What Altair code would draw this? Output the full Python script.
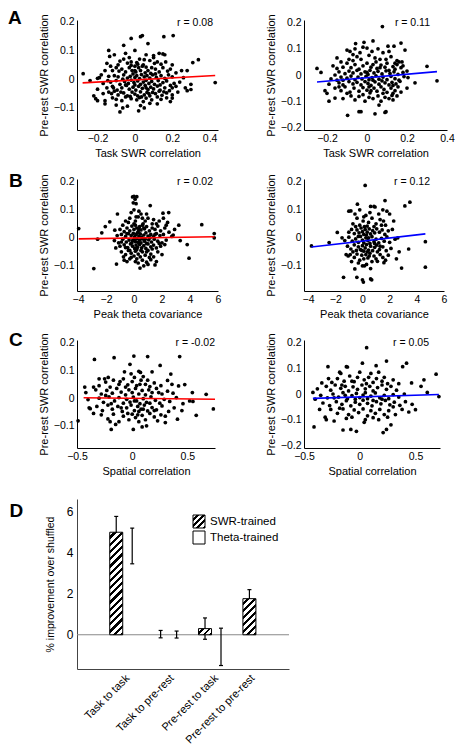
import altair as alt
import pandas as pd

FONT = "Liberation Sans"

# ---------------- scatter data ----------------
a1_pts = [
    (-0.02, 0.142), (0.03, 0.148), (0.04, 0.152), (0.155, 0.148), (0.205, 0.152),
    (0.07, 0.124), (-0.06, 0.118),
    (-0.14, 0.10), (-0.11, 0.085), (-0.05, 0.09), (0.0, 0.10), (0.13, 0.09), (0.15, 0.088), (0.06, 0.085), (0.10, 0.082), (0.16, 0.085),
    (-0.135, 0.079), (-0.08, 0.063), (-0.06, 0.07), (-0.04, 0.056), (-0.02, 0.06), (0.01, 0.058), (0.025, 0.07), (0.045, 0.05),
    (0.08, 0.065), (0.10, 0.075), (0.12, 0.06), (0.34, 0.068), (0.31, 0.058), (0.20, 0.05), (0.14, 0.052), (-0.15, 0.055),
    (-0.16, 0.03), (-0.12, 0.03), (-0.10, 0.04), (-0.085, 0.028), (-0.07, 0.035), (-0.05, 0.025), (-0.03, 0.04), (-0.015, 0.03),
    (0.0, 0.045), (0.005, 0.025), (0.02, 0.04), (0.03, 0.03), (0.04, 0.045), (0.055, 0.022), (0.07, 0.03), (0.09, 0.04),
    (0.11, 0.035), (0.13, 0.025), (0.15, 0.04), (0.175, 0.028), (0.19, 0.035), (0.25, 0.03), (0.28, 0.03), (-0.277, 0.019), (0.22, 0.022),
    (-0.19, 0.005), (-0.14, 0.01), (-0.11, 0.012), (-0.09, 0.008), (-0.06, 0.015), (-0.04, 0.004), (-0.025, 0.01), (-0.01, 0.018),
    (0.0, 0.006), (0.01, 0.012), (0.025, 0.002), (0.035, 0.016), (0.05, 0.008), (0.065, 0.012), (0.08, 0.004), (0.095, 0.015),
    (0.115, 0.006), (0.14, 0.012), (0.16, 0.003), (0.18, 0.015), (0.20, 0.008), (0.26, 0.005), (-0.20, 0.003),
    (-0.24, -0.005), (-0.17, -0.015), (-0.13, -0.01), (-0.10, -0.005), (-0.08, -0.018), (-0.055, -0.008), (-0.035, -0.015), (-0.02, -0.003),
    (-0.005, -0.012), (0.015, -0.006), (0.03, -0.018), (0.045, -0.01), (0.06, -0.004), (0.075, -0.015), (0.09, -0.008), (0.105, -0.018),
    (0.125, -0.005), (0.15, -0.012), (0.17, -0.006), (0.21, -0.015), (0.24, -0.01), (0.30, -0.018), (0.43, -0.012),
    (-0.20, -0.035), (-0.15, -0.03), (-0.12, -0.025), (-0.095, -0.038), (-0.07, -0.03), (-0.045, -0.022), (-0.03, -0.035), (-0.01, -0.028),
    (0.005, -0.038), (0.02, -0.025), (0.04, -0.032), (0.055, -0.022), (0.07, -0.036), (0.085, -0.028), (0.10, -0.034), (0.12, -0.024),
    (0.135, -0.038), (0.16, -0.03), (0.19, -0.022), (0.27, -0.03), (0.30, -0.036), (0.28, -0.04),
    (-0.22, -0.058), (-0.17, -0.05), (-0.14, -0.045), (-0.11, -0.042), (-0.09, -0.055), (-0.06, -0.048), (-0.04, -0.058), (-0.015, -0.045),
    (0.0, -0.052), (0.015, -0.058), (0.03, -0.044), (0.05, -0.055), (0.065, -0.046), (0.08, -0.058), (0.11, -0.05), (0.13, -0.042),
    (0.145, -0.056), (0.17, -0.048), (0.20, -0.055), (0.23, -0.045),
    (-0.21, -0.068), (-0.20, -0.075), (-0.16, -0.075), (-0.12, -0.065), (-0.10, -0.07), (-0.07, -0.075), (-0.05, -0.062), (-0.02, -0.068),
    (0.01, -0.072), (0.025, -0.064), (0.045, -0.078), (0.06, -0.066), (0.09, -0.072), (0.12, -0.062), (0.14, -0.07), (0.17, -0.065),
    (0.20, -0.066), (0.19, -0.078),
    (-0.16, -0.086), (-0.10, -0.09), (-0.08, -0.114), (-0.065, -0.10), (-0.04, -0.094), (0.02, -0.11), (0.05, -0.10), (0.03, -0.092),
    (0.12, -0.086), (0.08, -0.084),
    (-0.13, 0.045), (-0.09, 0.05), (-0.02, 0.048), (0.015, 0.052), (0.06, 0.042), (0.105, 0.055), (0.165, 0.06),
    (-0.145, -0.005), (-0.065, 0.0), (0.0, -0.02), (0.085, 0.02), (0.135, -0.02), (0.185, -0.04), (0.22, -0.025),
    (-0.125, -0.05), (-0.075, -0.045), (-0.025, -0.06), (0.035, -0.062), (0.095, -0.046), (0.155, -0.044),
    (-0.18, 0.015), (-0.115, -0.03), (0.05, 0.068), (0.11, 0.018), (0.20, -0.03), (-0.03, 0.075), (0.075, -0.05), (0.0, 0.03),
    (0.06, -0.03), (-0.05, -0.02),
]
a2_pts = [
    (0.077, 0.185), (-0.057, 0.12), (-0.015, 0.125), (0.03, 0.13), (0.17, 0.122), (0.19, 0.095), (-0.10, 0.095), (-0.085, 0.09),
    (-0.07, 0.078), (-0.02, 0.106), (0.0, 0.103), (0.105, 0.11), (0.135, 0.11), (0.30, 0.033), (0.205, -0.01), (0.24, -0.03),
    (0.35, -0.022), (-0.25, 0.025), (-0.19, -0.10), (-0.21, -0.06), (-0.20, -0.07), (-0.16, -0.088), (-0.097, -0.154), (-0.04, -0.14),
    (-0.03, -0.14), (0.04, -0.148), (0.09, -0.143), (0.095, -0.14),
    (-0.13, 0.05), (-0.05, 0.07), (-0.03, 0.06), (0.01, 0.075), (0.04, 0.065), (0.065, 0.06), (0.08, 0.085), (0.12, 0.07),
    (0.15, 0.055), (0.16, 0.05), (0.14, 0.045), (-0.07, 0.055), (0.025, 0.09), (0.11, 0.09),
    (-0.17, 0.035), (-0.15, 0.025), (-0.12, 0.03), (-0.10, 0.045), (-0.08, 0.028), (-0.06, 0.04), (-0.04, 0.022), (-0.02, 0.035),
    (0.0, 0.045), (0.02, 0.03), (0.03, 0.04), (0.05, 0.025), (0.07, 0.038), (0.09, 0.03), (0.10, 0.045), (0.13, 0.032),
    (0.15, 0.04), (0.17, 0.028), (0.175, 0.05), (0.14, 0.022),
    (-0.23, 0.01), (-0.14, 0.012), (-0.11, 0.005), (-0.09, 0.015), (-0.07, 0.008), (-0.05, 0.018), (-0.03, 0.004), (-0.01, 0.012),
    (0.005, 0.002), (0.015, 0.018), (0.035, 0.008), (0.055, 0.014), (0.075, 0.004), (0.095, 0.016), (0.115, 0.006), (0.135, 0.012),
    (0.155, 0.002), (0.18, 0.01), (0.20, 0.015),
    (-0.18, -0.015), (-0.15, -0.02), (-0.13, -0.008), (-0.10, -0.012), (-0.08, -0.004), (-0.06, -0.018), (-0.045, -0.008), (-0.025, -0.015),
    (-0.005, -0.005), (0.01, -0.018), (0.025, -0.01), (0.045, -0.003), (0.06, -0.016), (0.08, -0.008), (0.10, -0.018), (0.12, -0.005),
    (0.14, -0.014), (0.16, -0.02), (0.185, -0.006),
    (-0.19, -0.035), (-0.14, -0.03), (-0.12, -0.038), (-0.09, -0.025), (-0.07, -0.034), (-0.05, -0.028), (-0.03, -0.038), (-0.01, -0.025),
    (0.005, -0.032), (0.02, -0.04), (0.04, -0.026), (0.06, -0.035), (0.075, -0.022), (0.09, -0.03), (0.11, -0.038), (0.125, -0.028),
    (0.145, -0.034), (0.165, -0.024),
    (-0.16, -0.05), (-0.13, -0.06), (-0.11, -0.045), (-0.085, -0.065), (-0.065, -0.05), (-0.04, -0.062), (-0.02, -0.048), (0.0, -0.058),
    (0.015, -0.068), (0.035, -0.05), (0.05, -0.062), (0.07, -0.045), (0.085, -0.055), (0.10, -0.066), (0.12, -0.05), (0.14, -0.06),
    (0.155, -0.045), (0.13, -0.07),
    (-0.12, -0.09), (-0.08, -0.08), (-0.06, -0.095), (-0.04, -0.082), (-0.01, -0.10), (0.01, -0.085), (0.03, -0.09), (0.055, -0.08),
    (0.07, -0.10), (0.09, -0.085), (0.11, -0.09), (0.125, -0.078), (0.06, -0.115), (0.13, -0.095),
    (-0.15, 0.065), (-0.09, 0.06), (0.055, 0.10), (0.095, 0.06), (-0.16, 0.0), (-0.12, -0.02), (0.0, 0.01), (0.03, -0.02),
    (0.065, 0.028), (0.11, 0.018), (0.13, -0.04), (0.02, -0.06), (-0.02, -0.075), (0.08, -0.07), (0.15, -0.08), (-0.10, -0.07),
    (-0.14, -0.045), (0.045, 0.05), (-0.035, 0.085), (0.18, 0.035), (0.20, -0.05), (0.17, -0.065), (-0.06, 0.10), (0.01, -0.045),
]
b1_pts = [
    (-3.95, 0.033), (-2.87, -0.11), (-2.3, 0.018), (-2.05, 0.04), (-1.73, 0.057), (-1.37, 0.027), (-1.18, 0.085), (-1.25, -0.094),
    (-0.1, 0.146), (0.0, 0.148), (0.2, 0.147), (0.08, 0.138), (-0.05, 0.125), (0.15, 0.122), (1.16, 0.115), (4.84, 0.047),
    (5.73, 0.015), (5.73, 0.0), (3.93, -0.073), (3.8, -0.024), (3.3, -0.01), (2.48, 0.09), (2.07, 0.088), (0.43, -0.108),
    (1.5, -0.097), (2.9, 0.03), (3.2, 0.045), (2.8, 0.01), (-2.6, -0.005),
    (-0.6, 0.06), (-0.2, 0.09), (0.0, 0.10), (0.3, 0.075), (0.5, 0.085), (0.8, 0.06), (1.0, 0.07), (1.4, 0.065),
    (1.8, 0.06), (2.1, 0.07), (-0.4, 0.055), (0.1, 0.06), (0.65, 0.05), (1.6, 0.05), (2.4, 0.055),
    (-1.0, 0.03), (-0.8, 0.045), (-0.5, 0.035), (-0.3, 0.025), (-0.15, 0.042), (0.0, 0.03), (0.1, 0.045), (0.2, 0.035),
    (0.3, 0.022), (0.4, 0.04), (0.5, 0.028), (0.6, 0.045), (0.75, 0.032), (0.9, 0.04), (1.1, 0.025), (1.3, 0.035),
    (1.5, 0.03), (1.7, 0.042), (1.9, 0.025), (2.2, 0.035), (2.5, 0.02), (-0.7, 0.022),
    (-1.2, 0.008), (-0.9, 0.012), (-0.6, 0.005), (-0.4, 0.015), (-0.2, 0.008), (-0.05, 0.016), (0.05, 0.004), (0.15, 0.012),
    (0.25, 0.018), (0.35, 0.006), (0.45, 0.014), (0.55, 0.002), (0.7, 0.01), (0.85, 0.018), (1.0, 0.006), (1.2, 0.012),
    (1.4, 0.004), (1.6, 0.015), (1.85, 0.008), (2.1, 0.012), (2.7, 0.005),
    (-1.4, -0.01), (-1.1, -0.018), (-0.8, -0.005), (-0.55, -0.015), (-0.35, -0.008), (-0.15, -0.018), (0.0, -0.006), (0.1, -0.014),
    (0.2, -0.003), (0.3, -0.016), (0.4, -0.008), (0.5, -0.018), (0.6, -0.004), (0.75, -0.012), (0.9, -0.02), (1.05, -0.007),
    (1.25, -0.015), (1.45, -0.005), (1.7, -0.012), (2.0, -0.018), (2.3, -0.008),
    (-1.0, -0.03), (-0.7, -0.025), (-0.45, -0.035), (-0.25, -0.022), (-0.1, -0.03), (0.05, -0.038), (0.15, -0.026), (0.25, -0.034),
    (0.4, -0.024), (0.55, -0.036), (0.7, -0.028), (0.85, -0.038), (1.0, -0.022), (1.2, -0.032), (1.4, -0.026), (1.6, -0.036),
    (1.9, -0.03), (2.2, -0.024), (-1.3, -0.036),
    (-0.9, -0.05), (-0.6, -0.06), (-0.4, -0.045), (-0.2, -0.055), (0.0, -0.065), (0.1, -0.048), (0.3, -0.058), (0.45, -0.068),
    (0.6, -0.05), (0.8, -0.062), (1.0, -0.045), (1.2, -0.058), (1.4, -0.068), (1.7, -0.05), (2.0, -0.06), (-0.75, -0.068),
    (0.2, -0.042), (1.1, -0.07),
    (-0.7, -0.08), (-0.3, -0.075), (0.1, -0.085), (0.3, -0.09), (0.6, -0.08), (0.9, -0.087), (1.2, -0.078), (1.6, -0.085),
    (-0.5, -0.085), (0.7, -0.10),
    (-0.3, 0.07), (0.35, 0.095), (0.9, 0.085), (-0.5, 0.015), (0.0, 0.05), (0.7, 0.035), (1.3, 0.05), (-0.1, -0.01),
    (0.35, 0.03), (0.8, -0.005), (1.15, 0.0), (-0.3, -0.045), (0.5, -0.045), (0.9, -0.05), (1.3, -0.04), (-0.6, -0.035),
    (0.2, -0.075), (1.0, -0.095), (1.8, -0.02), (2.3, 0.045), (-0.9, -0.015), (0.6, 0.07), (1.5, 0.012), (0.15, 0.075), (-0.2, -0.07),
]
b2_pts = [
    (-3.75, -0.029), (-2.45, -0.017), (-1.85, 0.019), (0.2, 0.187), (3.49, 0.127), (3.12, 0.114), (1.66, 0.133), (0.6, 0.112),
    (0.85, 0.112), (0.93, 0.11), (-0.37, 0.12), (-0.85, 0.096), (-1.0, 0.095), (4.63, -0.014), (4.63, -0.105), (2.88, -0.108),
    (-1.39, -0.141), (-0.41, -0.141), (0.0, -0.15), (0.07, -0.158), (0.6, -0.147), (0.68, -0.15), (-0.56, -0.111), (1.58, -0.089),
    (1.1, -0.084), (2.5, -0.075), (3.4, -0.04), (2.3, 0.06), (2.0, 0.085), (1.8, 0.095), (-1.2, -0.06), (-1.05, -0.065),
    (-0.7, 0.05), (-0.4, 0.07), (-0.2, 0.045), (0.05, 0.06), (0.25, 0.08), (0.45, 0.055), (0.7, 0.07), (1.0, 0.05),
    (1.3, 0.065), (1.55, 0.06), (1.7, 0.045), (-0.55, 0.085), (0.35, 0.042), (1.2, 0.085),
    (-1.0, 0.02), (-0.8, 0.03), (-0.6, 0.015), (-0.4, 0.028), (-0.25, 0.018), (-0.1, 0.035), (0.0, 0.022), (0.1, 0.012),
    (0.2, 0.03), (0.35, 0.02), (0.5, 0.032), (0.6, 0.014), (0.75, 0.026), (0.9, 0.018), (1.05, 0.032), (1.25, 0.02),
    (1.45, 0.028), (1.65, 0.012), (1.9, 0.025), (2.2, 0.03), (0.15, 0.04),
    (-1.3, -0.01), (-1.0, 0.002), (-0.75, -0.012), (-0.5, -0.004), (-0.3, -0.016), (-0.15, 0.005), (0.0, -0.008), (0.1, -0.018),
    (0.25, 0.0), (0.4, -0.01), (0.55, -0.02), (0.7, 0.004), (0.85, -0.014), (1.0, -0.005), (1.2, -0.018), (1.4, -0.002),
    (1.6, -0.012), (1.8, 0.003), (2.0, -0.016), (2.4, -0.005),
    (-1.1, -0.03), (-0.85, -0.04), (-0.6, -0.025), (-0.45, -0.045), (-0.3, -0.032), (-0.15, -0.042), (0.0, -0.028), (0.1, -0.048),
    (0.2, -0.036), (0.3, -0.024), (0.45, -0.044), (0.6, -0.03), (0.75, -0.046), (0.9, -0.034), (1.05, -0.026), (1.25, -0.042),
    (1.5, -0.032), (1.75, -0.046), (2.1, -0.038), (-0.7, -0.05), (0.35, -0.05),
    (-0.9, -0.06), (-0.6, -0.07), (-0.4, -0.058), (-0.2, -0.08), (-0.05, -0.062), (0.1, -0.075), (0.25, -0.06), (0.4, -0.072),
    (0.55, -0.055), (0.7, -0.085), (0.85, -0.065), (1.0, -0.075), (1.3, -0.06), (1.5, -0.07), (1.9, -0.062), (-0.3, -0.09),
    (0.3, -0.095), (0.15, -0.10),
    (-0.5, 0.04), (0.1, 0.075), (0.55, 0.09), (0.85, 0.04), (1.4, 0.045), (-0.3, 0.005), (0.3, 0.01), (0.9, -0.02),
    (1.3, -0.03), (-0.05, -0.045), (0.5, -0.065), (1.1, -0.05), (1.7, -0.08), (-0.8, -0.085), (0.0, -0.10), (0.6, -0.11),
    (-0.2, 0.10), (1.5, 0.10), (2.6, 0.0), (2.7, -0.05), (-1.5, 0.0), (0.45, 0.0),
]
c1_pts = [
    (-0.342, 0.14), (-0.164, 0.146), (0.015, 0.152), (0.14, 0.15), (0.253, 0.118), (0.43, 0.15), (-0.02, 0.122), (0.06, 0.097),
    (0.075, 0.093), (-0.01, 0.088), (-0.217, 0.075), (-0.24, 0.058), (-0.49, -0.082), (-0.39, -0.035), (-0.38, -0.038), (-0.19, -0.113),
    (0.01, -0.113), (0.09, -0.104), (0.41, -0.076), (0.23, -0.082), (0.30, -0.088), (0.58, -0.062), (0.735, -0.039), (0.67, 0.014),
    (0.545, 0.02), (0.476, 0.049), (0.32, 0.064), (0.35, 0.087), (0.42, 0.044), (0.52, -0.01), (0.46, -0.02), (0.55, -0.012),
    (-0.43, 0.04), (-0.35, 0.04),
    (-0.30, 0.045), (-0.20, 0.04), (-0.17, 0.065), (-0.12, 0.05), (-0.08, 0.07), (-0.04, 0.048), (0.0, 0.06), (0.04, 0.045),
    (0.08, 0.065), (0.12, 0.05), (0.16, 0.042), (0.20, 0.055), (0.26, 0.045), (-0.25, 0.07), (0.10, 0.078),
    (-0.42, 0.02), (-0.33, 0.03), (-0.28, 0.015), (-0.23, 0.028), (-0.18, 0.018), (-0.14, 0.035), (-0.10, 0.022), (-0.06, 0.012),
    (-0.03, 0.03), (0.0, 0.02), (0.03, 0.035), (0.06, 0.015), (0.09, 0.028), (0.12, 0.012), (0.15, 0.03), (0.18, 0.02),
    (0.22, 0.035), (0.27, 0.015), (0.32, 0.025), (0.37, 0.018),
    (-0.40, -0.005), (-0.30, 0.0), (-0.26, -0.015), (-0.21, 0.005), (-0.16, -0.01), (-0.12, 0.002), (-0.08, -0.018), (-0.05, -0.004),
    (-0.02, -0.014), (0.01, 0.004), (0.04, -0.01), (0.07, -0.02), (0.10, -0.002), (0.13, -0.015), (0.17, 0.005), (0.21, -0.008),
    (0.25, -0.018), (0.29, -0.004), (0.34, -0.012), (0.40, 0.002),
    (-0.32, -0.03), (-0.27, -0.045), (-0.22, -0.025), (-0.18, -0.04), (-0.13, -0.03), (-0.09, -0.048), (-0.05, -0.035), (-0.01, -0.025),
    (0.02, -0.045), (0.05, -0.03), (0.08, -0.04), (0.11, -0.025), (0.14, -0.046), (0.18, -0.034), (0.22, -0.042), (0.27, -0.028),
    (0.33, -0.048), (0.38, -0.035),
    (-0.28, -0.06), (-0.22, -0.075), (-0.17, -0.058), (-0.12, -0.085), (-0.08, -0.065), (-0.03, -0.078), (0.0, -0.058), (0.03, -0.07),
    (0.06, -0.085), (0.09, -0.062), (0.12, -0.078), (0.16, -0.055), (0.20, -0.068), (0.26, -0.06), (-0.15, -0.095), (0.05, -0.06),
    (-0.24, 0.01), (-0.11, 0.06), (-0.06, 0.04), (0.02, 0.075), (0.07, 0.05), (0.14, 0.065), (0.24, 0.02), (-0.19, -0.02),
    (-0.10, -0.035), (-0.04, -0.055), (0.02, -0.01), (0.06, -0.048), (0.10, -0.04), (0.16, -0.018), (0.20, -0.045), (0.30, -0.065),
    (-0.35, -0.055), (-0.20, -0.085), (0.13, -0.10), (0.36, 0.05), (-0.07, 0.095), (0.18, 0.095), (0.45, -0.045), (-0.30, 0.07),
]
c2_pts = [
    (0.062, 0.18), (0.42, 0.12), (0.385, 0.106), (0.685, 0.077), (0.576, 0.055), (0.606, 0.006), (0.465, 0.043), (-0.41, -0.128),
    (-0.15, -0.14), (-0.08, -0.138), (-0.03, -0.145), (0.04, -0.11), (0.21, -0.15), (0.24, -0.138), (0.28, -0.12), (0.50, -0.061),
    (-0.285, 0.106), (-0.18, 0.085), (-0.17, 0.08), (-0.12, 0.106), (-0.11, 0.105), (0.024, 0.12), (0.147, 0.11), (0.24, 0.128),
    (0.17, 0.085), (-0.31, -0.09), (-0.30, -0.10), (-0.42, 0.006), (-0.34, 0.043), (0.71, -0.01), (0.44, -0.07), (0.41, -0.03),
    (0.38, -0.06), (-0.23, -0.105), (0.32, -0.08),
    (-0.25, 0.045), (-0.20, 0.06), (-0.14, 0.05), (-0.09, 0.07), (-0.05, 0.048), (0.0, 0.085), (0.04, 0.055), (0.08, 0.065),
    (0.12, 0.045), (0.15, 0.06), (0.20, 0.05), (0.25, 0.04), (0.30, 0.055), (-0.02, 0.065),
    (-0.38, 0.02), (-0.30, 0.03), (-0.26, 0.015), (-0.22, 0.035), (-0.17, 0.022), (-0.13, 0.03), (-0.10, 0.012), (-0.06, 0.028),
    (-0.02, 0.018), (0.02, 0.035), (0.05, 0.02), (0.09, 0.03), (0.12, 0.012), (0.16, 0.025), (0.20, 0.035), (0.24, 0.018),
    (0.28, 0.03), (0.33, 0.015),
    (-0.35, -0.005), (-0.29, -0.015), (-0.24, 0.0), (-0.19, -0.012), (-0.15, 0.005), (-0.11, -0.018), (-0.07, -0.006), (-0.03, 0.002),
    (0.0, -0.014), (0.03, -0.004), (0.07, -0.018), (0.10, -0.008), (0.14, 0.004), (0.18, -0.015), (0.22, -0.005), (0.26, -0.018),
    (0.30, -0.002), (0.35, -0.012),
    (-0.33, -0.035), (-0.27, -0.045), (-0.21, -0.03), (-0.16, -0.04), (-0.12, -0.026), (-0.08, -0.046), (-0.04, -0.032), (0.0, -0.04),
    (0.03, -0.024), (0.07, -0.036), (0.11, -0.046), (0.15, -0.03), (0.19, -0.038), (0.23, -0.025), (0.27, -0.042), (0.31, -0.032),
    (0.36, -0.044),
    (-0.26, -0.06), (-0.20, -0.075), (-0.15, -0.058), (-0.10, -0.08), (-0.05, -0.062), (-0.01, -0.072), (0.03, -0.058), (0.07, -0.085),
    (0.10, -0.065), (0.14, -0.075), (0.18, -0.06), (0.22, -0.08), (0.26, -0.065), (-0.12, -0.095), (0.12, -0.092),
    (-0.28, 0.06), (-0.16, 0.035), (-0.07, 0.05), (0.06, 0.04), (0.10, 0.08), (0.22, 0.065), (0.35, 0.04), (-0.23, -0.015),
    (-0.13, -0.005), (-0.04, -0.02), (0.05, 0.005), (0.12, -0.025), (0.20, -0.02), (0.30, -0.05), (-0.18, -0.055), (-0.07, -0.09),
    (0.05, -0.10), (0.17, -0.10), (0.25, -0.09), (-0.36, -0.06), (0.40, 0.0), (0.47, -0.04), (0.55, 0.03), (-0.40, -0.02),
]

# regression lines (end points)
a1_fit_x, a1_fit_y = [-0.28, 0.43], [-0.013, 0.013]
a2_fit_x, a2_fit_y = [-0.25, 0.35], [-0.027, 0.013]
b1_fit_x, b1_fit_y = [-3.95, 5.75], [-0.004, 0.004]
b2_fit_x, b2_fit_y = [-3.75, 4.63], [-0.033, 0.014]
c1_fit_x, c1_fit_y = [-0.44, 0.75], [0.0015, -0.004]
c2_fit_x, c2_fit_y = [-0.42, 0.71], [-0.017, -0.002]

r_labels = ["r = 0.08", "r = 0.11", "r = 0.02", "r = 0.12", "r = -0.02", "r = 0.05"]

# ---------------- bar chart data (panel D) ----------------
categories = ["Task to task", "Task to pre-rest", "Pre-rest to task", "Pre-rest to pre-rest"]
swr_mean = [5.0, 0.03, 0.3, 1.76]
swr_err = [0.77, 0.18, 0.52, 0.44]
theta_mean = [4.33, 0.01, -0.59, None]
theta_err = [0.87, 0.17, 0.91, None]
legend_labels = ["SWR-trained", "Theta-trained"]


def hatch(w, h, period=7.2, black=0.45):
    s = (w + h) / (w * w + h * h)
    n = max(1, int(round((w + h) / period)))
    stops = []
    for k in range(n):
        a = k / n
        b = (k + 1 - black) / n
        c = (k + 1) / n
        stops += [alt.GradientStop(color="white", offset=a),
                  alt.GradientStop(color="white", offset=b),
                  alt.GradientStop(color="black", offset=b),
                  alt.GradientStop(color="black", offset=c)]
    return alt.LinearGradient(gradient="linear", stops=stops, x1=0, y1=0, x2=w * s, y2=h * s)


def letter_layer(letter, lx, ly):
    return alt.Chart(pd.DataFrame({"t": [letter]})).mark_text(
        align="left", baseline="top", font=FONT, fontSize=19, fontWeight="bold", color="black"
    ).encode(x=alt.value(lx), y=alt.value(ly), text="t:N")


def scatter(pts, fit_x, fit_y, color, r_label, xtitle, xdom, xvals, ydom, yvals,
            w, h, r_dx, letter=None, letter_x=-69, letter_y=-11):
    df = pd.DataFrame(pts, columns=["x", "y"])
    fit = pd.DataFrame({"x": fit_x, "y": fit_y})
    xsc = alt.Scale(domain=xdom, nice=False, zero=False)
    ysc = alt.Scale(domain=ydom, nice=False, zero=False)
    pts_layer = alt.Chart(df).mark_circle(size=14, color="black", opacity=1).encode(
        x=alt.X("x:Q", scale=xsc, axis=alt.Axis(values=xvals, tickCount=20, format="~g", title=xtitle,
                                                 labelOverlap=False, labelFlush=False)),
        y=alt.Y("y:Q", scale=ysc, axis=alt.Axis(values=yvals, tickCount=20, format="~g",
                                                 title="Pre-rest SWR correlation",
                                                 labelOverlap=False, labelFlush=False)),
    )
    line = alt.Chart(fit).mark_line(color=color, strokeWidth=1.6).encode(x="x:Q", y="y:Q")
    rtext = alt.Chart(pd.DataFrame({"t": [r_label]})).mark_text(
        align="right", baseline="middle", font=FONT, fontSize=10.5, color="black"
    ).encode(x=alt.value(w - r_dx), y=alt.value(2.5), text="t:N")
    layers = [pts_layer, line, rtext]
    if letter:
        layers.append(letter_layer(letter, letter_x, letter_y))
    return alt.layer(*layers).properties(width=w, height=h)


a1 = scatter(a1_pts, a1_fit_x, a1_fit_y, "#ff0000", r_labels[0], "Task SWR correlation",
             [-0.31, 0.445], [-0.2, 0, 0.2, 0.4], [-0.177, 0.206], [-0.1, 0, 0.1, 0.2], 141, 110, 5, "A", -69, -11.4)
a2 = scatter(a2_pts, a2_fit_x, a2_fit_y, "#0000ff", r_labels[1], "Task SWR correlation",
             [-0.315, 0.4], [-0.2, 0, 0.2, 0.4], [-0.21, 0.21], [-0.2, -0.1, 0, 0.1, 0.2], 143, 110, 17)
b1 = scatter(b1_pts, b1_fit_x, b1_fit_y, "#ff0000", r_labels[2], "Peak theta covariance",
             [-4.07, 6], [-4, -2, 0, 2, 4, 6], [-0.19, 0.21], [-0.1, 0, 0.1, 0.2], 141, 112, 5, "B", -68, -7.1)
b2 = scatter(b2_pts, b2_fit_x, b2_fit_y, "#0000ff", r_labels[3], "Peak theta covariance",
             [-4.3, 6], [-4, -2, 0, 2, 4, 6], [-0.19, 0.21], [-0.1, 0, 0.1, 0.2], 140, 112, 14)
c1 = scatter(c1_pts, c1_fit_x, c1_fit_y, "#ff0000", r_labels[4], "Spatial correlation",
             [-0.5, 0.75], [-0.5, 0, 0.5], [-0.18, 0.21], [-0.1, 0, 0.1, 0.2], 138, 108, 0, "C", -68, -9.4)
c2 = scatter(c2_pts, c2_fit_x, c2_fit_y, "#0000ff", r_labels[5], "Spatial correlation",
             [-0.5, 0.72], [-0.5, 0, 0.5], [-0.21, 0.21], [-0.2, -0.1, 0, 0.1, 0.2], 136, 108, 11)

# ---------------- panel D ----------------
DW, DH = 212, 170
d_xdom = [-0.951, 3.599]
d_ydom = [-1.67, 6.62]
OFF = 0.18
ppu_y = DH / (d_ydom[1] - d_ydom[0])
BAR_W = 13

rows = []
ticks = []
for i, cat in enumerate(categories):
    xs = []
    rows.append(dict(cat=cat, kind="SWR", x=i - OFF, m=swr_mean[i],
                     lo=swr_mean[i] - swr_err[i], hi=swr_mean[i] + swr_err[i]))
    xs.append(i - OFF)
    if theta_mean[i] is not None:
        rows.append(dict(cat=cat, kind="Theta", x=i + OFF, m=theta_mean[i],
                         lo=theta_mean[i] - theta_err[i], hi=theta_mean[i] + theta_err[i]))
        xs.append(i + OFF)
    ticks.append(sum(xs) / len(xs))
ddf = pd.DataFrame(rows)
ddf["base"] = 0.0

label_expr = ""
for t, cat in zip(ticks[:-1], categories[:-1]):
    label_expr += f"datum.value < {t + 0.3:.3f} ? '{cat}' : "
label_expr += f"'{categories[-1]}'"

dx = alt.X("x:Q", scale=alt.Scale(domain=d_xdom, nice=False, zero=False),
           axis=alt.Axis(values=ticks, tickCount=20, labelExpr=label_expr, labelAngle=-45, labelAlign="right",
                         labelBaseline="top", labelPadding=3, labelOffset=-1, labelFontSize=11,
                         domainColor="#444", labelOverlap=False, labelFlush=False),
           title=None)
dy = alt.Y("m:Q", scale=alt.Scale(domain=d_ydom, nice=False, zero=False),
           axis=alt.Axis(values=[0, 2, 4, 6], tickCount=20, format="d", labelFontSize=12, labelPadding=4,
                         titlePadding=11, titleFontSize=10.5, domainColor="#444",
                         labelOverlap=False, labelFlush=False,
                         title="% improvement over shuffled"))

base = alt.Chart(ddf)
zero_rule = alt.Chart(pd.DataFrame({"z": [0.0]})).mark_rule(color="#888888", strokeWidth=1).encode(y="z:Q")
err = base.mark_rule(color="black", strokeWidth=1.2).encode(x="x:Q", y="lo:Q", y2="hi:Q")
cap_hi = base.transform_calculate(xa="datum.x - 0.045", xb="datum.x + 0.045").mark_rule(
    color="black", strokeWidth=1.2).encode(x="xa:Q", x2="xb:Q", y="hi:Q")
cap_lo = base.transform_calculate(xa="datum.x - 0.045", xb="datum.x + 0.045").mark_rule(
    color="black", strokeWidth=1.2).encode(x="xa:Q", x2="xb:Q", y="lo:Q")

d_layers = [base.mark_point(opacity=0).encode(x=dx, y=dy), zero_rule, err, cap_hi, cap_lo]
for i, cat in enumerate(categories):
    hpx = abs(swr_mean[i]) * ppu_y
    if hpx < 1:
        continue
    d_layers.append(
        base.transform_filter((alt.datum.cat == cat) & (alt.datum.kind == "SWR"))
        .mark_bar(size=BAR_W, orient="vertical", fill=hatch(BAR_W, hpx), stroke="black", strokeWidth=1)
        .encode(x="x:Q", y="m:Q", y2="base:Q")
    )

leg = pd.DataFrame({"label": legend_labels})
d_layers.append(
    alt.Chart(leg).transform_filter(alt.datum.label == legend_labels[0])
    .mark_rect(fill=hatch(12, 13, period=6.5), stroke="black", strokeWidth=1)
    .encode(x=alt.value(116), x2=alt.value(128), y=alt.value(16), y2=alt.value(29))
)
d_layers.append(
    alt.Chart(leg).transform_filter(alt.datum.label == legend_labels[1])
    .mark_rect(fill="white", stroke="black", strokeWidth=1)
    .encode(x=alt.value(116), x2=alt.value(128), y=alt.value(32), y2=alt.value(45))
)
d_layers.append(
    alt.Chart(leg).transform_filter(alt.datum.label == legend_labels[0])
    .mark_text(align="left", baseline="middle", font=FONT, fontSize=11.5, color="black")
    .encode(x=alt.value(133), y=alt.value(22.5), text="label:N")
)
d_layers.append(
    alt.Chart(leg).transform_filter(alt.datum.label == legend_labels[1])
    .mark_text(align="left", baseline="middle", font=FONT, fontSize=11.5, color="black")
    .encode(x=alt.value(133), y=alt.value(38.5), text="label:N")
)
d_layers.append(letter_layer("D", -67.5, 2.6))
d = alt.layer(*d_layers).properties(width=DW, height=DH)

grid = alt.concat(
    a1, a2, b1, b2, c1, c2,
    columns=2, spacing={"row": 49, "column": 86}, bounds="flush", align="each",
)

chart = alt.vconcat(grid, d, spacing=22).properties(padding=0).configure_view(stroke=None).configure_axis(
    grid=False, ticks=False, tickSize=0, domainColor="black", domainWidth=1,
    labelFont=FONT, titleFont=FONT, labelFontSize=10.5, titleFontSize=11,
    titleFontWeight="normal", labelColor="black", titleColor="black",
    labelPadding=3, titlePadding=4, labelOverlap=False, labelFlush=False,
)

chart.save("out.html", embed_options={"renderer": "svg", "actions": False})
